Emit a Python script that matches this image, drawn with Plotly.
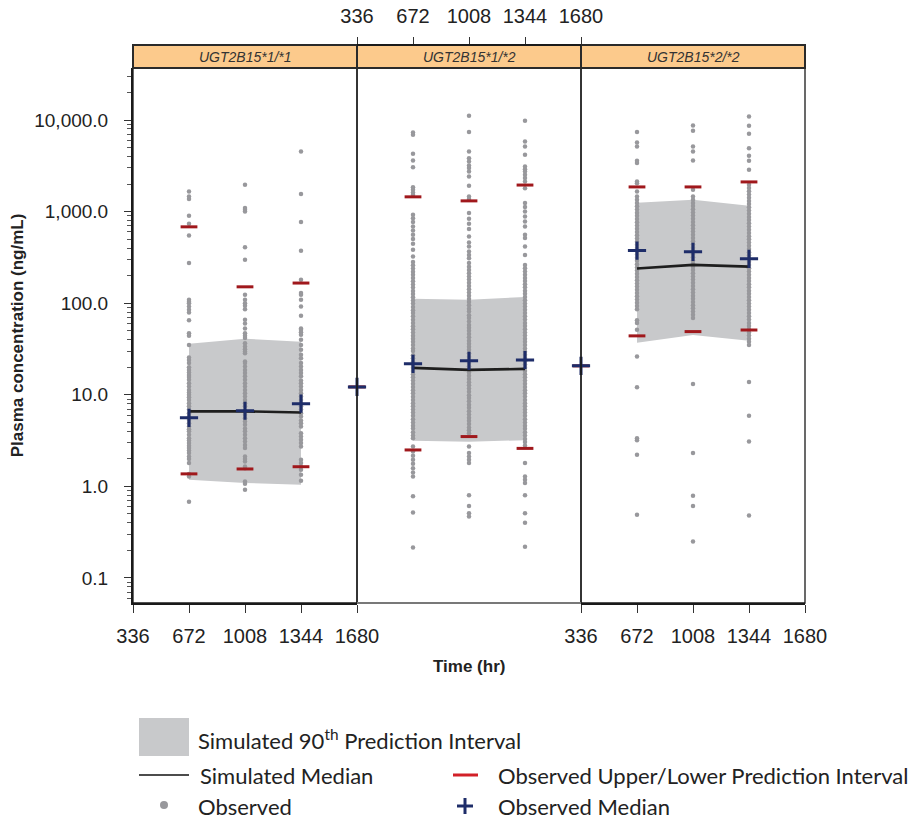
import plotly.graph_objects as go

# ---------------- data ----------------
panels = ["UGT2B15*1/*1", "UGT2B15*1/*2", "UGT2B15*2/*2"]
times = [672, 1008, 1344]
x_ticks = [336, 672, 1008, 1344, 1680]
y_tickvals = [0.1, 1, 10, 100, 1000, 10000]
y_ticktext = ["0.1", "1.0", "10.0", "100.0", "1,000.0", "10,000.0"]

sim_median = [[6.6, 6.6, 6.4], [19.7, 18.7, 19.2], [239, 262, 251]]
sim_upper = [[36, 41, 38], [112, 109, 117], [1250, 1345, 1157]]
sim_lower = [[1.18, 1.09, 1.04], [3.15, 3.07, 3.2], [37, 45, 39]]
obs_upper = [[682, 151, 166], [1450, 1310, 1950], [1860, 1860, 2110]]
obs_lower = [[1.37, 1.55, 1.64], [2.5, 3.5, 2.6], [44, 49, 51]]
obs_median = [[5.6, 6.7, 8.0], [21.8, 23.5, 24.0], [376, 364, 305]]
edge_time = 336
edge_value = [None, 12.2, 20.7]

p1_t672 = [1656, 1462, 1370, 900, 736, 548, 274, 109, 104, 100, 92, 85, 79, 65, 47, 44, 35,
           25.5, 24, 22.2, 20, 18.7, 17.5, 16.5, 15.6, 14.6, 13.4, 12.3, 11.3, 10.6, 10, 9.4,
           8.8, 8.1, 7.5, 6.9, 6.3, 5.8, 5.3, 4.9, 4.5, 4.2, 4.0, 3.66, 3.36, 3.17, 2.97, 2.77,
           2.62, 2.47, 2.31, 2.12, 1.99, 1.80, 1.37, 1.28, 0.68]
p1_t1008 = [1960, 1092, 1047, 1003, 409, 298, 124, 109, 100, 94, 86, 66, 60, 53, 47, 44, 41.6,
            36.6, 33.7, 31.5, 29.7, 28.5, 23.1, 22.2, 20.4, 18.7, 17.3, 15.9, 14.6, 13.4, 12.3,
            11.3, 10.4, 9.6, 8.8, 8.1, 7.5, 6.75, 6.05, 5.56, 5.1, 4.7, 4.3, 4.0, 3.66, 3.36,
            3.09, 2.84, 2.62, 2.12, 1.99, 1.87, 1.65, 1.58, 1.13, 1.07, 0.92]
p1_t1344 = [4530, 1553, 768, 373, 180, 129, 124, 109, 92, 72.8, 53, 51.3, 48.3, 45.2, 39.8, 35,
            31, 27.3, 25.1, 22.2, 20.4, 18.7, 17.3, 15.9, 14.3, 13.4, 12.3, 11.3, 10.4, 9.6, 8.8,
            8.1, 7.5, 6.9, 6.3, 5.8, 5.25, 4.9, 4.5, 3.81, 3.51, 3.23, 2.97, 2.73, 1.95, 1.80,
            1.65, 1.52, 1.34, 1.15]

p2_t672 = [7310, 6890, 4280, 3615, 3060, 1850, 1730, 1620, 1525, 922, 849, 768, 687, 622, 558,
           501, 445, 383, 324, 282, 260, 240, 221, 204, 188, 174, 160, 148, 136, 126, 116, 107,
           99, 91, 84, 78, 72, 66, 61, 56, 52, 48, 44, 41, 38, 35, 32, 30, 27, 25, 23, 21.4,
           19.7, 18.2, 16.8, 15.5, 14.3, 13.2, 12.2, 11.2, 10.4, 9.5, 8.8, 8.1, 7.5, 6.9, 6.4,
           5.9, 5.4, 5.0, 4.6, 4.3, 3.9, 3.6, 3.35, 2.73, 2.40, 2.16, 1.95, 1.77, 1.58, 1.42,
           1.28, 0.78, 0.52, 0.215]
p2_t1008 = [11100, 7380, 4530, 3835, 3525, 3185, 2985, 2740, 2417, 1913, 1462, 1370, 964, 834,
            736, 644, 535, 460, 416, 367, 337, 310, 274, 250, 231, 213, 196, 181, 167, 154, 142,
            131, 121, 111, 103, 95, 87, 81, 74, 69, 63, 58, 54, 50, 46, 42.5, 39, 36, 33.5, 31,
            28.5, 26, 24, 22.3, 20.5, 19, 17.5, 16.1, 14.9, 13.7, 12.7, 11.7, 10.8, 9.9, 9.2,
            8.5, 7.8, 7.2, 6.6, 6.1, 5.6, 5.2, 4.8, 4.4, 4.1, 3.8, 2.73, 2.31, 2.12, 1.95, 1.80,
            0.80, 0.61, 0.51, 0.47]
p2_t1344 = [9800, 5820, 5140, 4170, 3105, 2910, 2740, 2525, 2323, 2135, 1804, 1240, 1120, 1003,
            885, 780, 687, 558, 514, 416, 337, 262, 241, 222, 205, 189, 175, 161, 149, 137, 127,
            117, 108, 99.5, 92, 85, 78, 72, 66.5, 61, 56.5, 52, 48, 44.5, 41, 38, 35, 32, 29.5,
            27.3, 25.2, 23.2, 21.4, 19.8, 18.2, 16.8, 15.5, 14.3, 13.2, 12.2, 11.2, 10.4, 9.6,
            8.8, 8.1, 7.5, 6.9, 6.4, 5.9, 5.4, 5.0, 4.6, 4.25, 3.9, 3.6, 3.3, 3.05, 2.8, 1.80,
            1.28, 1.18, 1.09, 0.80, 0.51, 0.40, 0.22]

p3_t672 = [7380, 5670, 5140, 3590, 3385, 2135, 2045, 1660, 1462, 1345, 1240, 1145, 1055, 975,
           900, 830, 765, 705, 650, 600, 553, 510, 470, 434, 400, 369, 340, 314, 290, 267, 246,
           227, 210, 193, 178, 164, 152, 140, 129, 119, 110, 101, 93, 86, 65, 60.7, 51.3, 26.2,
           12.1, 3.36, 3.2, 2.21, 0.49]
p3_t1008 = [8710, 7620, 5140, 4530, 3615, 1730, 1462, 1350, 1245, 1150, 1060, 980, 905, 835,
            770, 710, 655, 605, 558, 515, 475, 438, 404, 373, 344, 318, 293, 270, 249, 230, 212,
            196, 181, 167, 154, 142, 131, 121, 112, 103, 95, 88, 81, 75, 69, 13.1, 2.31, 0.79,
            0.61, 0.25]
p3_t1344 = [10900, 8650, 7060, 4930, 4065, 3590, 2860, 1965, 1810, 1670, 1540, 1420, 1310, 1210,
            1115, 1030, 950, 875, 808, 745, 688, 635, 585, 540, 498, 460, 424, 391, 361, 333,
            307, 283, 261, 241, 222, 205, 189, 175, 161, 149, 137, 127, 117, 108, 99.5, 92, 85,
            78, 72, 66.5, 61, 56.5, 52, 48, 44.5, 41, 38, 35, 13.8, 5.9, 3.09, 0.48]

observed = [[p1_t672, p1_t1008, p1_t1344],
            [p2_t672, p2_t1008, p2_t1344],
            [p3_t672, p3_t1008, p3_t1344]]

# ---------------- styling / layout helpers ----------------
W, H = 912, 822
ML, MR, MT, MB = 133, 107, 45, 219
PW, PH = W - ML - MR, H - MT - MB
PLOT_TOP = 68
YDOM_TOP = (H - MB - PLOT_TOP) / PH


def px(xp):
    return (xp - ML) / PW


def py(yp):
    return (H - MB - yp) / PH


DOT = "rgb(152,152,156)"
BAND = "rgb(200,201,203)"
RED = "rgb(160,24,28)"
NAVY = "rgb(30,45,105)"
TICKFONT = dict(family="Liberation Sans, Arial", size=20, color="#222")

fig = go.Figure()
axes = ["x", "x2", "x3"]
for i in range(3):
    xa = axes[i]
    up, lo = sim_upper[i], sim_lower[i]
    fig.add_trace(go.Scatter(x=times + times[::-1], y=up + lo[::-1], fill="toself",
                             fillcolor=BAND, line=dict(width=0), mode="lines",
                             xaxis=xa, yaxis="y", hoverinfo="skip", showlegend=False))
    for t, vals in zip(times, observed[i]):
        fig.add_trace(go.Scatter(x=[t] * len(vals), y=vals, mode="markers",
                                 marker=dict(color=DOT, size=4.5, line=dict(width=0)),
                                 xaxis=xa, yaxis="y", showlegend=False))
    fig.add_trace(go.Scatter(x=times, y=sim_median[i], mode="lines",
                             line=dict(color="#1e1e1e", width=2.6),
                             xaxis=xa, yaxis="y", showlegend=False))
    ex = [edge_time] if edge_value[i] is not None else []
    ev = [edge_value[i]] if edge_value[i] is not None else []
    fig.add_trace(go.Scatter(x=times + times + ex, y=obs_upper[i] + obs_lower[i] + ev,
                             mode="markers", cliponaxis=False,
                             marker=dict(symbol="line-ew", size=12, line=dict(color=RED, width=3)),
                             xaxis=xa, yaxis="y", showlegend=False))
    fig.add_trace(go.Scatter(x=times + ex, y=obs_median[i] + ev,
                             mode="markers", cliponaxis=False,
                             marker=dict(symbol="cross-thin", size=13, line=dict(color=NAVY, width=3)),
                             xaxis=xa, yaxis="y", showlegend=False))

minor_vals = [m * 10 ** e for e in range(-2, 5) for m in range(2, 10)]
xcommon = dict(range=[336, 1680], tickvals=x_ticks, ticktext=[str(v) for v in x_ticks],
               ticks="outside", ticklen=8, tickcolor="#333", tickfont=TICKFONT,
               ticklabelstandoff=6, showgrid=False, zeroline=False, fixedrange=True,
               automargin=False)
fig.update_layout(
    width=W, height=H, margin=dict(l=ML, r=MR, t=MT, b=MB, autoexpand=False),
    paper_bgcolor="white", plot_bgcolor="white", showlegend=False,
    xaxis=dict(domain=[0, 1 / 3], anchor="y", side="bottom", showline=True,
               linecolor="#1a1a1a", linewidth=2, **xcommon),
    xaxis2=dict(domain=[1 / 3, 2 / 3], anchor="free", position=1, side="top",
                showline=False, **xcommon),
    xaxis3=dict(domain=[2 / 3, 1], anchor="y", side="bottom", showline=True,
                linecolor="#1a1a1a", linewidth=2, **xcommon),
    yaxis=dict(type="log", range=[-1.273, 4.568], domain=[0, YDOM_TOP], anchor="x",
               tickvals=y_tickvals, ticktext=y_ticktext, ticks="outside", ticklen=7,
               tickcolor="#333", showline=True, linecolor="#1a1a1a", linewidth=2,
               ticklabelstandoff=12, automargin=False,
               tickfont=dict(family="Liberation Sans, Arial", size=19, color="#222"),
               minor=dict(tickvals=minor_vals, ticks="outside", ticklen=4, tickcolor="#555"),
               showgrid=False, zeroline=False,
               title=dict(text="<b>Plasma concentration (ng/mL)</b>", standoff=6,
                          font=dict(family="Liberation Sans, Arial", size=17, color="#222"))),
)

shapes = []
anns = []
for i in range(3):
    x0, x1 = i / 3, (i + 1) / 3
    shapes.append(dict(type="rect", xref="paper", yref="paper", x0=x0, x1=x1, y0=0, y1=YDOM_TOP,
                       line=dict(color="#1a1a1a", width=1.3), layer="above"))
    shapes.append(dict(type="rect", xref="paper", yref="paper", x0=x0, x1=x1, y0=YDOM_TOP, y1=1,
                       fillcolor="rgb(252,202,140)", line=dict(color="#2a2a2a", width=2)))
    anns.append(dict(text="<i>" + panels[i] + "</i>", xref="paper", yref="paper",
                     x=(x0 + x1) / 2, y=(YDOM_TOP + 1) / 2, showarrow=False,
                     xanchor="center", yanchor="middle",
                     font=dict(family="Liberation Sans, Arial", size=14, color="#333")))
# top axis line above panel 2
shapes.append(dict(type="line", xref="paper", yref="paper", x0=1 / 3, x1=2 / 3, y0=1, y1=1,
                   line=dict(color="#1a1a1a", width=2)))
# grey bottom line under middle panel
shapes.append(dict(type="line", xref="paper", yref="paper", x0=1 / 3, x1=2 / 3, y0=0, y1=0,
                   line=dict(color="rgb(120,120,120)", width=2), layer="above"))

anns.append(dict(text="<b>Time (hr)</b>", xref="paper", yref="paper", x=px(469), y=py(666),
                 showarrow=False, xanchor="center", yanchor="middle",
                 font=dict(family="Liberation Sans, Arial", size=17, color="#222")))

# ---------------- legend ----------------
LF = dict(family="Lato, Noto Sans, sans-serif", size=22, color="#222")
shapes.append(dict(type="rect", xref="paper", yref="paper", x0=px(139), x1=px(189),
                   y0=py(756), y1=py(718), fillcolor=BAND, line=dict(width=0)))
shapes.append(dict(type="line", xref="paper", yref="paper", x0=px(139), x1=px(189),
                   y0=py(775), y1=py(775), line=dict(color="#111", width=1.5)))
shapes.append(dict(type="line", xref="paper", yref="paper", x0=px(453), x1=px(478),
                   y0=py(775), y1=py(775), line=dict(color="rgb(210,32,40)", width=3)))
shapes.append(dict(type="circle", xref="paper", yref="paper", x0=px(160), x1=px(168),
                   y0=py(809), y1=py(801), fillcolor=DOT, line=dict(width=0)))
shapes.append(dict(type="line", xref="paper", yref="paper", x0=px(457), x1=px(473),
                   y0=py(806), y1=py(806), line=dict(color=NAVY, width=3)))
shapes.append(dict(type="line", xref="paper", yref="paper", x0=px(465), x1=px(465),
                   y0=py(814), y1=py(798), line=dict(color=NAVY, width=3)))
for txt, xx, yy in [("Simulated 90<sup>th</sup> Prediction Interval", 196, 739),
                    ("Simulated Median", 198, 776),
                    ("Observed Upper/Lower Prediction Interval", 496, 776),
                    ("Observed", 196, 806),
                    ("Observed Median", 496, 806)]:
    anns.append(dict(text=txt, xref="paper", yref="paper", x=px(xx), y=py(yy), showarrow=False,
                     xanchor="left", yanchor="middle", font=LF))

fig.update_layout(shapes=shapes, annotations=anns)
fig.write_html("out.html")
